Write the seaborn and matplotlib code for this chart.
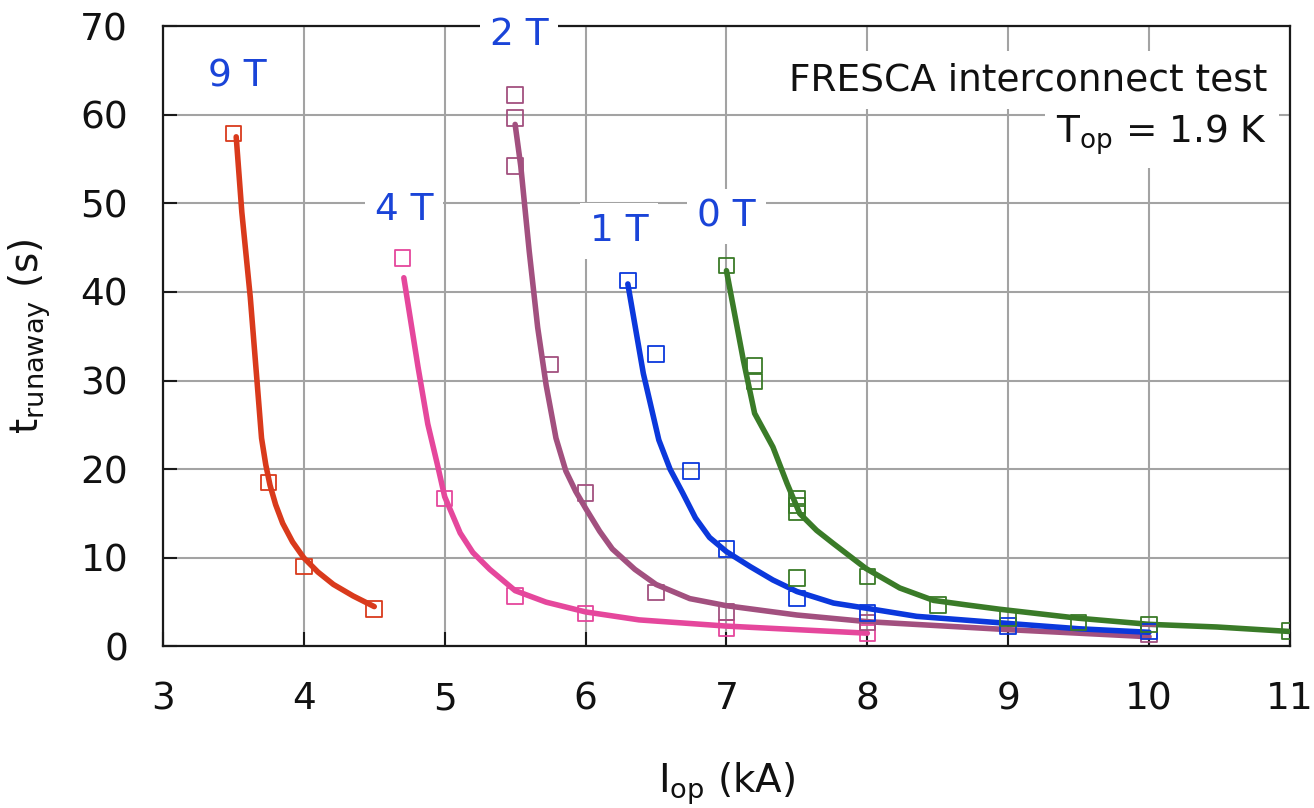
import matplotlib
matplotlib.use("Agg")
import matplotlib.pyplot as plt
import seaborn as sns

# Measured runaway times (open squares) for each background field
i_9t = [3.5, 3.75, 4.0, 4.5]
t_9t = [57.9, 18.5, 9.0, 4.2]
i_4t = [4.7, 5.0, 5.5, 6.0, 7.0, 8.0]
t_4t = [43.8, 16.7, 5.7, 3.7, 2.1, 1.5]
i_2t = [5.5, 5.5, 5.5, 5.75, 6.0, 6.5, 7.0, 8.0, 10.0]
t_2t = [62.2, 59.6, 54.2, 31.8, 17.3, 6.1, 3.9, 2.7, 1.4]
i_1t = [6.3, 6.5, 6.75, 7.0, 7.5, 8.0, 9.0, 10.0]
t_1t = [41.3, 33.0, 19.8, 11.0, 5.4, 3.8, 2.3, 1.7]
i_0t = [7.0, 7.2, 7.2, 7.5, 7.5, 7.5, 7.5, 8.0, 8.5, 9.0, 9.5, 10.0, 11.0]
t_0t = [43.0, 31.7, 29.9, 16.7, 15.9, 15.2, 7.7, 7.9, 4.7, 3.2, 2.7, 2.5, 1.75]

# Simulated runaway curves (solid lines)
ci_9t = [3.52, 3.56, 3.62, 3.67, 3.70, 3.73, 3.76, 3.80, 3.85, 3.92, 4.0, 4.1, 4.21, 4.35, 4.5]
ct_9t = [57.5, 49.0, 39.4, 29.5, 23.5, 20.5, 18.2, 16.0, 13.9, 11.8, 10.0, 8.4, 7.0, 5.7, 4.5]
ci_4t = [4.71, 4.81, 4.88, 4.95, 5.0, 5.11, 5.2, 5.32, 5.50, 5.72, 6.0, 6.38, 7.0, 8.0]
ct_4t = [41.6, 31.6, 25.1, 20.4, 16.9, 12.8, 10.6, 8.7, 6.3, 5.0, 3.9, 3.0, 2.3, 1.5]
ci_2t = [5.5, 5.54, 5.60, 5.66, 5.72, 5.79, 5.86, 5.93, 6.0, 6.1, 6.19, 6.35, 6.5, 6.74, 7.0, 7.5, 8.0, 9.0, 10.0]
ct_2t = [58.9, 54.2, 44.6, 36.0, 29.5, 23.5, 19.8, 17.5, 15.6, 13.0, 11.0, 8.7, 7.0, 5.4, 4.6, 3.55, 2.8, 1.9, 1.1]
ci_1t = [6.30, 6.41, 6.52, 6.60, 6.69, 6.78, 6.88, 7.0, 7.17, 7.33, 7.5, 7.76, 8.0, 8.35, 9.0, 9.5, 10.0]
ct_1t = [40.9, 30.8, 23.3, 20.0, 17.3, 14.5, 12.3, 10.7, 9.0, 7.5, 6.2, 4.9, 4.3, 3.4, 2.6, 2.0, 1.6]
ci_0t = [7.0, 7.12, 7.2, 7.33, 7.43, 7.52, 7.64, 7.76, 7.99, 8.23, 8.47, 8.7, 8.94, 9.49, 10.0, 10.48, 10.99]
ct_0t = [42.4, 32.3, 26.3, 22.5, 18.4, 15.0, 13.1, 11.6, 8.8, 6.6, 5.2, 4.7, 4.2, 3.2, 2.5, 2.2, 1.7]

field_labels = ["9 T", "4 T", "2 T", "1 T", "0 T"]
label_pos = [(3.525, 64.3), (4.71, 49.2), (5.53, 69.0), (6.24, 46.9), (7.0, 48.5)]
colors = ["#d93a1c", "#e5479c", "#a2507f", "#0b38dc", "#3a7b28"]

x_ticks = [3, 4, 5, 6, 7, 8, 9, 10, 11]
y_ticks = [0, 10, 20, 30, 40, 50, 60, 70]

sns.set_theme(style="whitegrid")
plt.rcParams["font.family"] = ["DejaVu Sans"]
plt.rcParams["mathtext.default"] = "regular"

fig = plt.figure(figsize=(13.14, 8.08), dpi=100)
ax = fig.add_axes([0.1240, 0.1999, 0.8577, 0.7679])

measured = [(i_9t, t_9t), (i_4t, t_4t), (i_2t, t_2t), (i_1t, t_1t), (i_0t, t_0t)]
curves = [(ci_9t, ct_9t), (ci_4t, ct_4t), (ci_2t, ct_2t), (ci_1t, ct_1t), (ci_0t, ct_0t)]

for (ci, ct), (mi, mt), col in zip(curves, measured, colors):
    sns.lineplot(x=ci, y=ct, ax=ax, color=col, lw=4.0, sort=False,
                 estimator=None, zorder=3)
    sns.scatterplot(x=mi, y=mt, ax=ax, marker="s", s=125, color=col,
                    facecolor="none", edgecolor=col, linewidth=1.3, zorder=4)

for lab, (lx, ly) in zip(field_labels, label_pos):
    ax.text(lx, ly, lab, ha="center", va="center", fontsize=27, color="#1a44d8",
            zorder=5, bbox=dict(facecolor="white", edgecolor="none", pad=7))

ax.text(10.84, 63.9, "FRESCA interconnect test", ha="right", va="center",
        fontsize=27, color="#111111", zorder=5,
        bbox=dict(facecolor="white", edgecolor="none", pad=8))
ax.text(10.84, 57.8, "T$_{op}$ = 1.9 K", ha="right", va="center",
        fontsize=27, color="#111111", zorder=5,
        bbox=dict(facecolor="white", edgecolor="none", pad=8))

ax.set_xlim(3, 11)
ax.set_ylim(0, 70)
ax.set_xticks(x_ticks)
ax.set_yticks(y_ticks)
ax.grid(True, color="#a3a3a3", linewidth=1.5)
ax.set_axisbelow(True)
for sp in ax.spines.values():
    sp.set_visible(True)
    sp.set_color("#1a1a1a")
    sp.set_linewidth(1.6)
ax.tick_params(axis="both", direction="in", length=10, width=1.5,
               color="#1a1a1a", labelsize=27, pad=25, labelcolor="#111111",
               bottom=True, left=True, top=False, right=False)

ax.set_xlabel("I$_{op}$ (kA)", fontsize=28, color="#111111", labelpad=31)
ax.set_ylabel("t$_{runaway}$ (s)", fontsize=28, color="#111111", labelpad=20)

fig.savefig("out.png", dpi=100, facecolor="white")
